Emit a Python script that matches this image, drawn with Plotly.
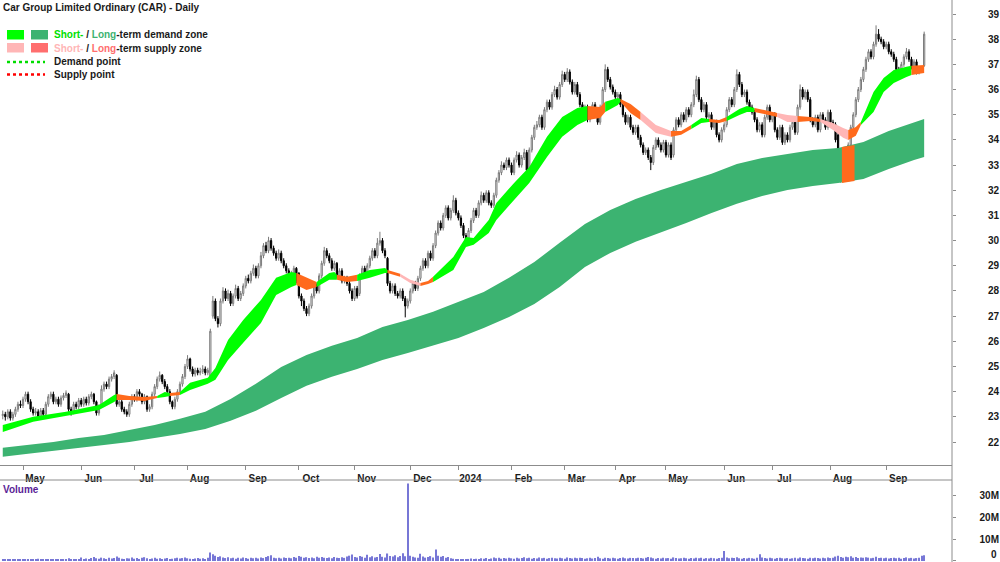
import pandas as pd
import plotly.graph_objects as go

# ---------------- calendar (ASX trading days) ----------------
asx_holidays = ["2023-04-25", "2023-06-12", "2023-12-25", "2023-12-26", "2024-01-01",
                "2024-01-26", "2024-03-29", "2024-04-01", "2024-04-25", "2024-06-10"]
trading_days = pd.bdate_range("2023-04-18", "2024-09-23")
trading_days = trading_days[~trading_days.isin(pd.to_datetime(asx_holidays))]

# ---------------- daily prices ----------------
open_ = [
 23.05,23.10,23.00,23.20,22.95,23.10,23.30,23.50,23.45,23.70,
 23.90,23.60,23.30,23.15,23.20,23.00,23.25,23.10,23.50,23.80,
 23.90,23.60,23.70,23.50,23.75,23.85,23.90,23.30,23.20,23.50,
 23.40,23.65,23.50,23.70,23.55,23.80,23.90,23.60,23.15,23.45,
 24.10,24.30,24.20,24.50,24.60,24.65,23.50,23.60,23.30,23.20,
 23.10,23.50,23.80,23.70,24.00,23.90,23.60,23.80,23.30,23.40,
 23.90,24.20,24.50,24.65,24.40,24.20,24.00,23.60,23.40,23.70,
 24.00,24.30,24.60,25.00,25.30,24.90,24.70,24.85,24.75,24.80,
 24.90,24.75,24.60,27.00,27.60,26.90,26.70,27.60,28.00,27.70,
 27.90,27.50,27.80,28.10,27.70,27.90,28.20,28.50,28.40,28.70,
 28.90,28.60,29.00,29.40,29.80,29.60,30.00,29.70,29.50,29.30,
 29.50,29.20,29.00,28.80,28.60,28.70,28.90,28.70,27.80,27.60,
 27.30,27.10,27.40,27.80,28.20,28.00,28.60,29.10,29.60,29.40,
 29.20,28.90,29.10,28.60,28.80,28.40,28.50,28.30,28.00,27.70,
 28.10,27.90,28.60,28.90,28.70,29.00,29.30,29.60,29.40,29.90,
 30.00,29.60,29.30,28.30,28.00,28.20,27.90,27.80,28.00,27.70,
 27.40,27.60,28.00,28.30,28.10,28.50,28.90,29.20,29.00,29.50,
 29.30,29.80,30.30,30.70,30.50,31.00,31.30,30.90,31.20,31.60,
 31.10,30.90,30.60,30.20,30.00,30.40,30.80,31.20,31.00,31.50,
 31.80,31.60,31.90,31.50,31.40,31.80,32.40,32.70,33.00,32.90,
 33.20,33.00,32.70,33.20,33.40,33.00,33.30,33.50,32.60,33.60,
 34.10,34.50,34.60,34.90,34.50,35.20,35.50,35.30,35.80,36.00,
 35.70,36.20,36.60,36.40,36.70,36.30,35.90,36.20,35.80,35.40,
 35.10,35.30,34.80,35.00,35.40,35.20,34.70,35.30,36.00,36.80,
 36.40,36.10,35.90,35.70,35.80,35.40,35.00,34.70,34.90,34.50,
 34.30,34.50,34.10,33.80,33.50,33.60,33.30,33.10,33.70,34.00,
 33.80,33.60,33.90,33.40,33.80,33.40,34.40,34.80,34.60,35.00,
 34.80,35.20,35.00,35.40,35.80,36.40,35.60,35.20,35.40,34.90,
 35.00,34.50,34.70,34.20,34.00,34.40,34.60,35.20,35.60,35.40,
 36.00,36.60,36.20,35.80,35.90,35.50,35.30,35.10,34.80,34.40,
 34.60,34.20,34.90,35.30,34.80,35.00,34.40,34.10,34.50,33.90,
 34.20,34.00,34.50,34.70,34.30,35.30,36.00,35.70,35.90,35.60,
 34.80,34.60,34.90,34.40,35.00,34.80,34.50,35.10,34.70,34.60,
 34.20,32.60,32.70,33.00,33.20,33.80,34.50,35.00,35.60,36.00,
 36.40,36.80,37.20,37.50,37.30,37.80,38.20,38.00,37.90,37.70,
 37.80,37.50,37.40,37.20,36.80,36.70,37.00,37.30,37.50,37.20,
 36.90,37.10,36.70,36.80,36.95]

high = [
 23.25,23.20,23.30,23.30,23.20,23.40,23.60,23.65,23.80,24.00,
 24.00,23.70,23.40,23.35,23.30,23.35,23.35,23.60,23.90,24.00,
 24.00,23.80,23.80,23.85,23.95,24.05,23.95,23.40,23.60,23.60,
 23.75,23.75,23.80,23.80,23.90,24.00,23.95,23.65,23.50,24.25,
 24.40,24.40,24.60,24.70,24.85,24.70,23.75,23.70,23.40,23.30,
 23.60,23.90,23.90,24.10,24.10,23.95,23.90,23.85,23.50,24.00,
 24.30,24.60,24.80,24.70,24.50,24.30,24.10,23.65,23.80,24.10,
 24.40,24.70,25.10,25.45,25.35,25.00,24.95,24.95,24.95,25.05,
 25.00,24.95,26.50,27.80,27.70,27.00,27.70,28.15,28.10,28.05,
 28.00,27.90,28.25,28.20,28.00,28.30,28.60,28.65,28.80,29.05,
 29.00,29.10,29.55,29.90,29.95,30.15,30.10,29.80,29.60,29.65,
 29.60,29.30,29.10,28.90,28.80,29.00,28.95,28.75,27.90,27.70,
 27.40,27.50,27.90,28.30,28.30,28.70,29.20,29.75,29.70,29.50,
 29.30,29.20,29.15,28.90,28.90,28.60,28.60,28.40,28.10,28.20,
 28.20,28.70,29.00,29.00,29.10,29.40,29.70,29.70,30.10,30.35,
 30.10,29.70,29.35,28.40,28.30,28.30,28.00,28.10,28.10,27.80,
 27.70,28.10,28.40,28.40,28.60,29.00,29.30,29.30,29.60,29.60,
 29.90,30.40,30.80,30.80,31.10,31.40,31.40,31.30,31.80,31.70,
 31.20,31.00,30.70,30.30,30.50,30.90,31.30,31.30,31.60,31.95,
 31.90,32.00,32.00,31.60,31.90,32.50,32.80,33.15,33.10,33.30,
 33.30,33.10,33.30,33.55,33.50,33.40,33.65,33.60,33.70,34.20,
 34.60,34.75,35.00,35.00,35.30,35.60,35.60,35.90,36.15,36.10,
 36.30,36.75,36.70,36.85,36.80,36.40,36.30,36.30,35.90,35.50,
 35.40,35.40,35.10,35.50,35.50,35.30,35.40,36.10,37.00,36.90,
 36.50,36.20,36.00,35.90,35.90,35.50,35.10,35.00,35.00,34.60,
 34.60,34.60,34.20,33.90,33.70,33.70,33.40,33.80,34.10,34.10,
 33.90,34.00,34.00,33.90,33.90,34.50,34.90,34.90,35.10,35.10,
 35.30,35.30,35.50,36.00,36.55,36.50,35.70,35.50,35.50,35.10,
 35.10,34.80,34.80,34.30,34.50,34.70,35.30,35.70,35.70,36.10,
 36.80,36.70,36.30,36.00,36.00,35.60,35.40,35.20,34.90,34.70,
 34.70,35.00,35.40,35.40,35.10,35.10,34.50,34.60,34.60,34.30,
 34.30,34.60,34.80,34.80,35.40,36.20,36.10,36.00,36.00,35.70,
 34.90,35.00,35.00,35.10,35.10,34.90,35.20,35.20,34.80,34.70,
 34.30,32.90,33.10,33.40,33.90,34.60,35.10,35.70,36.10,36.50,
 36.90,37.30,37.60,37.60,37.90,38.55,38.40,38.10,38.00,37.90,
 37.90,37.60,37.50,37.30,36.90,37.10,37.40,37.65,37.60,37.30,
 37.20,37.20,36.90,36.90,38.30]

low = [
 22.90,22.85,22.90,22.85,22.85,23.00,23.20,23.35,23.35,23.60,
 23.50,23.20,23.05,23.05,22.90,22.95,23.00,23.00,23.40,23.70,
 23.50,23.50,23.40,23.40,23.65,23.75,23.20,23.05,23.10,23.30,
 23.30,23.40,23.40,23.45,23.45,23.70,23.50,23.05,23.05,23.35,
 24.00,24.10,24.10,24.40,24.50,23.40,23.40,23.20,23.10,23.00,
 23.00,23.40,23.60,23.60,23.80,23.50,23.50,23.20,23.20,23.30,
 23.80,24.10,24.40,24.30,24.10,23.90,23.50,23.30,23.30,23.60,
 23.90,24.20,24.50,24.90,24.80,24.60,24.60,24.65,24.65,24.70,
 24.65,24.65,24.50,26.90,26.80,26.55,26.60,27.50,27.60,27.60,
 27.40,27.40,27.70,27.60,27.60,27.80,28.10,28.30,28.30,28.60,
 28.50,28.50,28.90,29.30,29.50,29.50,29.60,29.40,29.20,29.20,
 29.10,28.90,28.70,28.50,28.50,28.60,28.30,27.70,27.40,27.20,
 27.00,27.00,27.30,27.70,27.90,27.90,28.50,29.00,29.30,29.10,
 28.80,28.80,28.50,28.50,28.30,28.30,28.20,27.90,27.60,27.60,
 27.70,27.80,28.50,28.60,28.60,28.90,29.20,29.30,29.30,29.80,
 29.50,29.30,28.20,27.90,27.90,27.80,27.70,27.70,27.60,26.95,
 27.30,27.50,27.90,28.00,28.00,28.40,28.80,28.90,28.90,29.20,
 29.20,29.70,30.20,30.40,30.40,30.90,30.80,30.80,31.10,31.00,
 30.80,30.50,30.10,29.90,29.90,30.30,30.70,30.90,30.90,31.40,
 31.50,31.50,31.40,31.30,31.30,31.70,32.30,32.60,32.80,32.80,
 32.90,32.60,32.60,33.10,32.90,32.90,33.20,32.70,32.50,33.50,
 34.00,34.40,34.50,34.40,34.40,35.10,35.20,35.20,35.70,35.60,
 35.60,36.10,36.30,36.30,36.20,35.80,35.80,35.70,35.30,35.00,
 35.00,34.70,34.70,34.90,35.10,34.60,34.60,35.20,35.90,36.30,
 36.00,35.80,35.60,35.60,35.30,34.90,34.60,34.60,34.40,34.20,
 34.20,34.00,33.70,33.40,33.40,33.20,32.80,33.00,33.60,33.70,
 33.50,33.50,33.30,33.30,33.20,33.30,34.30,34.50,34.50,34.70,
 34.70,34.90,34.90,35.30,35.70,35.50,35.10,35.10,34.80,34.80,
 34.40,34.40,34.10,33.90,33.90,34.30,34.50,35.10,35.30,35.30,
 35.90,36.10,35.70,35.70,35.40,35.20,35.00,34.70,34.30,34.30,
 34.10,34.10,34.80,34.70,34.70,34.30,34.00,34.00,33.80,33.80,
 33.90,33.90,34.40,34.20,34.20,35.20,35.60,35.60,35.50,34.70,
 34.50,34.50,34.30,34.30,34.70,34.40,34.40,34.60,34.50,33.90,
 32.50,32.30,32.60,32.90,33.10,33.70,34.40,34.90,35.50,35.90,
 36.30,36.70,37.10,37.20,37.20,37.70,37.90,37.80,37.60,37.60,
 37.40,37.30,37.10,36.70,36.60,36.60,36.90,37.20,37.10,36.80,
 36.80,36.60,36.60,36.70,36.90]

close = [
 23.10,23.00,23.20,22.95,23.10,23.30,23.50,23.45,23.70,23.90,
 23.60,23.30,23.15,23.20,23.00,23.25,23.10,23.50,23.80,23.90,
 23.60,23.70,23.50,23.75,23.85,23.95,23.30,23.20,23.50,23.40,
 23.65,23.50,23.70,23.55,23.80,23.90,23.60,23.15,23.40,24.10,
 24.30,24.20,24.50,24.60,24.75,23.50,23.60,23.30,23.20,23.10,
 23.50,23.80,23.70,24.00,23.90,23.60,23.80,23.30,23.40,23.90,
 24.20,24.50,24.65,24.40,24.20,24.00,23.60,23.40,23.70,24.00,
 24.30,24.60,25.00,25.30,24.90,24.70,24.85,24.75,24.80,24.90,
 24.75,24.85,26.40,27.60,26.90,26.70,27.60,28.00,27.70,27.90,
 27.50,27.80,28.10,27.70,27.90,28.20,28.50,28.40,28.70,28.90,
 28.60,29.00,29.40,29.80,29.60,30.00,29.70,29.50,29.30,29.50,
 29.20,29.00,28.80,28.60,28.70,28.90,28.40,27.80,27.60,27.30,
 27.10,27.40,27.80,28.20,28.00,28.60,29.10,29.60,29.40,29.20,
 28.90,29.10,28.60,28.80,28.40,28.50,28.30,28.00,27.70,28.10,
 27.80,28.60,28.90,28.70,29.00,29.30,29.60,29.40,29.90,30.00,
 29.60,29.40,28.30,28.00,28.20,27.90,27.80,28.00,27.70,27.40,
 27.60,28.00,28.30,28.10,28.50,28.90,29.20,29.00,29.50,29.30,
 29.80,30.30,30.70,30.50,31.00,31.30,30.90,31.20,31.60,31.10,
 30.90,30.60,30.20,30.00,30.40,30.80,31.20,31.00,31.50,31.80,
 31.60,31.90,31.50,31.40,31.80,32.40,32.70,33.00,32.90,33.20,
 33.00,32.70,33.20,33.40,33.00,33.30,33.50,32.80,33.60,34.10,
 34.50,34.60,34.90,34.50,35.20,35.50,35.30,35.80,36.00,35.70,
 36.20,36.60,36.40,36.70,36.30,35.90,36.20,35.80,35.40,35.10,
 35.30,34.80,35.00,35.40,35.20,34.70,35.30,36.00,36.80,36.40,
 36.10,35.90,35.70,35.80,35.40,35.00,34.70,34.90,34.50,34.30,
 34.50,34.10,33.80,33.50,33.60,33.30,33.10,33.70,34.00,33.80,
 33.60,33.90,33.40,33.80,33.30,34.40,34.80,34.60,35.00,34.80,
 35.20,35.00,35.40,35.80,36.40,35.60,35.20,35.40,34.90,35.00,
 34.50,34.70,34.20,34.00,34.40,34.60,35.20,35.60,35.40,36.00,
 36.60,36.20,35.80,35.90,35.50,35.30,35.10,34.80,34.40,34.60,
 34.20,34.90,35.30,34.80,35.00,34.40,34.10,34.50,33.90,34.20,
 34.00,34.50,34.70,34.30,35.30,36.00,35.70,35.90,35.60,34.80,
 34.60,34.90,34.40,35.00,34.80,34.50,35.10,34.70,34.60,34.00,
 32.60,32.70,33.00,33.20,33.80,34.50,35.00,35.60,36.00,36.40,
 36.80,37.20,37.50,37.30,37.80,38.20,38.00,37.90,37.70,37.80,
 37.50,37.40,37.20,36.80,36.70,37.00,37.30,37.50,37.20,36.90,
 37.10,36.70,36.80,36.80,38.20]

# volume in millions of shares
volume_m = [
 0.8,0.6,0.7,0.9,0.6,0.7,0.8,0.6,0.9,0.7,
 0.8,0.6,0.7,0.9,1.0,0.7,0.6,0.8,0.9,0.7,
 0.6,0.8,0.7,0.9,0.6,0.8,1.2,0.9,0.7,0.8,
 0.9,1.6,0.8,1.1,0.9,1.3,1.8,1.2,1.0,1.5,
 1.2,0.9,1.4,1.1,1.3,2.0,1.4,1.0,0.9,1.2,
 1.1,1.6,1.0,1.3,0.9,1.5,1.7,1.2,0.9,1.1,
 1.4,1.0,1.2,0.8,1.1,1.3,0.9,1.0,1.2,1.5,
 1.1,1.3,1.6,1.2,1.0,0.9,1.1,1.3,1.0,1.2,
 0.9,1.4,3.8,3.0,2.4,1.8,2.1,1.6,1.3,1.7,
 1.2,1.5,1.0,1.4,1.1,1.6,1.3,1.0,1.5,1.2,
 1.4,1.1,1.6,1.3,1.8,2.2,2.6,1.5,1.2,1.4,
 1.1,1.6,1.3,1.5,1.2,1.8,1.4,2.3,1.9,1.5,
 1.7,1.3,1.6,1.2,1.9,1.5,1.8,1.4,1.3,1.6,
 1.2,1.8,1.5,1.3,1.7,1.4,2.0,2.4,2.9,1.8,
 1.6,2.2,1.9,1.5,2.8,1.7,2.1,1.6,1.8,3.2,
 1.9,1.6,3.4,2.2,2.0,2.6,1.7,2.3,3.5,2.1,
 35.5,2.4,1.9,1.6,1.4,3.3,2.0,1.5,1.8,2.2,
 1.6,5.2,2.4,1.9,2.3,1.5,1.8,1.2,1.0,0.9,
 0.8,0.9,0.7,0.8,0.9,1.1,0.8,1.0,0.9,1.2,
 1.0,1.3,0.9,1.1,1.6,1.2,1.4,1.0,1.3,1.1,
 1.5,1.2,1.0,1.4,1.1,1.3,1.7,1.2,1.5,1.0,
 1.3,1.1,1.6,1.2,1.4,1.0,1.3,1.5,1.2,1.1,
 1.4,1.2,1.0,1.6,1.3,1.1,1.4,1.2,1.5,1.3,
 1.0,1.2,1.4,1.1,1.3,1.9,1.2,1.0,1.5,1.3,
 1.1,1.4,1.2,1.0,1.3,1.6,1.2,1.1,1.4,1.3,
 1.2,1.5,1.3,1.1,1.4,1.8,1.6,1.2,1.0,1.3,
 1.1,1.4,1.2,1.3,1.0,1.6,1.3,1.1,1.2,1.4,
 1.2,1.0,1.3,1.1,1.5,1.2,1.4,1.0,1.3,1.1,
 1.4,1.2,1.0,1.3,1.5,4.6,1.6,1.2,1.4,1.3,
 1.7,1.2,1.0,1.3,1.1,1.4,1.2,1.0,1.5,3.1,
 1.6,1.3,1.1,1.4,1.2,1.0,1.3,1.5,1.2,1.1,
 1.3,1.0,1.2,1.4,1.1,1.6,1.3,1.2,1.0,1.4,
 1.2,1.5,1.3,1.1,1.4,1.2,1.6,1.3,1.5,2.0,
 2.4,1.8,1.5,1.9,1.7,2.1,1.5,1.8,1.3,1.6,
 1.4,1.7,1.5,1.2,1.4,1.9,1.3,1.5,1.2,1.4,
 1.1,1.3,1.5,1.2,1.4,1.0,1.3,1.6,1.2,1.4,
 1.1,1.3,1.5,2.4,2.6]

# ---------------- zones ----------------
# short-term zone: bar index, upper edge, lower edge, zone type of the stretch that follows
st_idx = [0,12,25,38,44,45,50,56,61,64,66,70,74,81,84,89,95,102,108,114,116,120,124,129,131,
          132,136,140,145,151,152,157,161,165,168,170,178,183,186,192,195,202,208,215,221,227,
          231,236,238,243,244,248,252,258,264,268,272,276,279,283,286,291,294,297,301,306,310,
          314,319,323,328,332,334,337,339,344,348,352,357,359,364]
st_top = [22.68,23.00,23.20,23.47,23.87,23.91,23.83,23.79,23.83,23.99,23.95,23.99,24.35,24.55,24.94,
          26.05,26.85,27.64,28.52,28.75,28.71,28.52,28.36,28.71,28.75,28.64,28.56,28.64,28.83,28.91,
          28.83,28.68,28.44,28.32,28.40,28.56,29.35,30.14,30.10,30.82,31.49,32.29,32.92,34.12,34.91,
          35.27,35.35,35.31,35.51,35.66,35.62,35.43,35.11,34.59,34.35,34.35,34.59,34.87,34.83,34.79,
          34.91,35.23,35.35,35.27,35.19,35.07,34.99,34.95,34.91,34.83,34.67,34.47,34.39,34.51,34.71,
          35.90,36.46,36.78,36.90,36.94,36.97]
st_bot = [22.40,22.80,23.04,23.27,23.59,23.67,23.67,23.63,23.75,23.79,23.83,23.87,24.07,24.31,24.47,
          25.26,25.94,26.73,27.84,28.16,28.24,28.04,28.16,28.44,28.44,28.44,28.36,28.40,28.52,28.71,
          28.71,28.56,28.32,28.20,28.28,28.36,28.83,29.75,29.83,30.30,30.82,31.61,32.29,33.32,34.12,
          34.59,34.79,34.87,35.11,35.39,35.51,35.07,34.79,34.27,34.12,34.20,34.43,34.67,34.71,34.67,
          34.75,34.99,35.11,35.11,35.03,34.91,34.71,34.71,34.75,34.71,34.39,34.08,34.00,34.16,34.59,
          35.11,35.90,36.26,36.50,36.58,36.66]
st_zone = ["G","G","G","G","G","O","O","O","G","G","O",
           "G","G","G","G","G","G","G","G","G",
           "O","O","G","G","G","O","O","G","G","G",
           "O","P","P","O","O",
           "G","G","G","G","G","G","G","G","G","G","G",
           "O","O","G","G","O","O","P","P","O","O",
           "G","G","O","O","G","G","G",
           "O","O","P","P","O","O","P","P","P","O","O",
           "G","G","G","G","G","O","O"]

# long-term zone
lt_idx = [0,10,20,30,40,50,60,70,80,90,100,110,120,130,140,150,160,170,180,190,
          200,210,220,230,240,250,260,270,280,290,300,310,320,330,340,350,360,364]
lt_top = [21.77,21.88,22.00,22.16,22.28,22.48,22.68,22.92,23.20,23.71,24.31,24.98,25.46,25.82,
          26.13,26.57,26.85,27.17,27.56,27.96,28.52,29.15,29.91,30.66,31.22,31.65,32.01,32.33,
          32.65,33.04,33.28,33.44,33.60,33.68,33.92,34.35,34.71,34.83]
lt_bot = [21.41,21.53,21.65,21.77,21.88,22.00,22.16,22.32,22.52,22.84,23.24,23.75,24.23,24.59,
          24.90,25.26,25.54,25.82,26.13,26.53,26.97,27.48,28.16,28.95,29.51,29.95,30.34,30.70,
          31.10,31.46,31.77,32.01,32.17,32.29,32.45,32.84,33.20,33.32]
# long-term supply stretch (August 2024)
lt_sup_idx = [331.5, 336.5]
lt_sup_top = [33.72, 33.80]
lt_sup_bot = [32.29, 32.37]

price_ticks = list(range(22, 40))
volume_ticks = [0, 10e6, 20e6, 30e6]
volume_label_ticks = [10e6, 20e6, 30e6]
volume_label_text = ["10M", "20M", "30M"]

# ---------------- styling ----------------
C_SHORT_DEMAND = "#00FF00"
C_LONG_DEMAND = "#3CB371"
C_SHORT_SUPPLY = "#FFB6B6"
C_LONG_SUPPLY = "#FF6E6E"
C_ORANGE = "#FF6A1C"
ZONE_COLORS = {"G": C_SHORT_DEMAND, "O": C_ORANGE, "P": C_SHORT_SUPPLY}
AXIS_GREY = "#8c8c8c"
FS = 10
FONT = dict(family="Liberation Sans, Arial, sans-serif", size=FS, color="#1a1a1a")

W, H = 1000, 562
PLOT_R = 952
PRICE_BOTTOM = 465
VOL_TOP = 480
PRICE_RANGE = [21.087, 39.556]
VOL_RANGE = [-0.5e6, 37.1e6]
X_RANGE = [-1.09, 375.0]

n = len(trading_days)
idx = list(range(n))

month_pos, month_txt = [], []
prev = None
for i, d in enumerate(trading_days):
    key = (d.year, d.month)
    if key != prev:
        if prev is not None:
            month_pos.append(i)
            month_txt.append(str(d.year) if d.month == 1 else d.strftime("%b"))
        prev = key

fig = go.Figure()


def add_band(xs, top, bot, color):
    fig.add_trace(go.Scatter(
        x=list(xs) + list(xs)[::-1], y=list(top) + list(bot)[::-1],
        fill="toself", fillcolor=color, mode="lines", line=dict(width=0, color=color),
        hoverinfo="skip", showlegend=False, xaxis="x", yaxis="y"))


# long-term band
add_band(lt_idx, lt_top, lt_bot, C_LONG_DEMAND)
add_band(lt_sup_idx, lt_sup_top, lt_sup_bot, C_ORANGE)

# short-term band, split into coloured stretches
segs = []
start = 0
for i in range(1, len(st_idx) - 1):
    if st_zone[i] != st_zone[start]:
        segs.append((start, i, st_zone[start]))
        start = i
segs.append((start, len(st_idx) - 1, st_zone[start]))
for a, b, z in segs:
    add_band(st_idx[a:b + 1], st_top[a:b + 1], st_bot[a:b + 1], ZONE_COLORS[z])

# candles
fig.add_trace(go.Candlestick(
    x=idx, open=open_, high=high, low=low, close=close,
    increasing=dict(line=dict(color="#7a7a7a", width=1), fillcolor="white"),
    decreasing=dict(line=dict(color="black", width=1), fillcolor="black"),
    whiskerwidth=0, hoverinfo="skip", showlegend=False, xaxis="x", yaxis="y"))

# volume
fig.add_trace(go.Bar(
    x=idx, y=[v * 1e6 for v in volume_m], width=0.45,
    marker=dict(color="#7777d6", line=dict(width=0)),
    hoverinfo="skip", showlegend=False, xaxis="x2", yaxis="y2"))

# invisible helpers so the label axes get drawn
fig.add_trace(go.Scatter(x=[0], y=[30], mode="markers", marker=dict(opacity=0),
                         hoverinfo="skip", showlegend=False, xaxis="x", yaxis="y3"))
fig.add_trace(go.Scatter(x=[0], y=[1e6], mode="markers", marker=dict(opacity=0),
                         hoverinfo="skip", showlegend=False, xaxis="x2", yaxis="y4"))

bold = lambda s: f"<b>{s}</b>"

fig.update_layout(
    width=W, height=H, margin=dict(l=0, r=0, t=0, b=0, pad=0),
    paper_bgcolor="white", plot_bgcolor="white", showlegend=False,
    font=FONT, hovermode=False,
    xaxis=dict(domain=[0, PLOT_R / W], range=X_RANGE, anchor="y",
               tickmode="array", tickvals=month_pos, ticktext=[bold(t) for t in month_txt],
               ticks="outside", ticklen=4, tickcolor=AXIS_GREY, tickfont=FONT,
               ticklabelshift=12, showline=True, linecolor=AXIS_GREY, linewidth=1,
               showgrid=False, zeroline=False, rangeslider=dict(visible=False)),
    xaxis2=dict(domain=[0, PLOT_R / W], range=X_RANGE, matches="x", anchor="y2",
                showticklabels=False, ticks="", showline=False, showgrid=False, zeroline=False),
    yaxis=dict(domain=[(H - PRICE_BOTTOM) / H, 1], range=PRICE_RANGE, anchor="x", side="right",
               tickmode="array", tickvals=price_ticks, showticklabels=False,
               ticks="outside", ticklen=3, tickcolor=AXIS_GREY,
               showline=False, showgrid=False, zeroline=False),
    yaxis3=dict(overlaying="y", anchor="free", position=0.999, side="left", range=PRICE_RANGE,
                tickmode="array", tickvals=price_ticks, ticktext=[bold(t) for t in price_ticks],
                ticks="", tickfont=FONT, showline=False, showgrid=False, zeroline=False),
    yaxis2=dict(domain=[0, (H - VOL_TOP) / H], range=VOL_RANGE, anchor="x2", side="right",
                tickmode="array", tickvals=volume_ticks, showticklabels=False,
                ticks="outside", ticklen=3, tickcolor=AXIS_GREY,
                showline=False, showgrid=False, zeroline=False),
    yaxis4=dict(overlaying="y2", anchor="free", position=0.999, side="left", range=VOL_RANGE,
                tickmode="array", tickvals=volume_label_ticks,
                ticktext=[bold(t) for t in volume_label_text],
                ticks="", tickfont=FONT, showline=False, showgrid=False, zeroline=False),
)

px = lambda v: v / W
py = lambda v: 1 - v / H

shapes = [
    # right axis line across both panels
    dict(type="line", xref="paper", yref="paper", x0=px(PLOT_R), x1=px(PLOT_R), y0=0, y1=1,
         line=dict(color=AXIS_GREY, width=1)),
    # volume panel top border
    dict(type="line", xref="paper", yref="paper", x0=0, x1=px(PLOT_R), y0=py(VOL_TOP), y1=py(VOL_TOP),
         line=dict(color=AXIS_GREY, width=1)),
    # legend swatches
    dict(type="rect", xref="paper", yref="paper", x0=px(7), x1=px(24), y0=py(39.5), y1=py(30),
         fillcolor=C_SHORT_DEMAND, line=dict(width=0)),
    dict(type="rect", xref="paper", yref="paper", x0=px(31), x1=px(48), y0=py(39.5), y1=py(30),
         fillcolor=C_LONG_DEMAND, line=dict(width=0)),
    dict(type="rect", xref="paper", yref="paper", x0=px(7), x1=px(24), y0=py(52.5), y1=py(43),
         fillcolor=C_SHORT_SUPPLY, line=dict(width=0)),
    dict(type="rect", xref="paper", yref="paper", x0=px(31), x1=px(48), y0=py(52.5), y1=py(43),
         fillcolor=C_LONG_SUPPLY, line=dict(width=0)),
    dict(type="line", xref="paper", yref="paper", x0=px(7), x1=px(45), y0=py(62), y1=py(62),
         line=dict(color="#00DD00", width=2.5, dash="dot")),
    dict(type="line", xref="paper", yref="paper", x0=px(7), x1=px(45), y0=py(74.5), y1=py(74.5),
         line=dict(color="#FF0000", width=2.5, dash="dot")),
]
fig.update_layout(shapes=shapes)


def note(x, y, text, color="#1a1a1a", xanchor="left", yanchor="middle"):
    fig.add_annotation(xref="paper", yref="paper", x=px(x), y=py(y), text=text,
                       showarrow=False, xanchor=xanchor, yanchor=yanchor,
                       font=dict(family=FONT["family"], size=FS, color=color))


note(1, 7.5, "<b>Car Group Limited Ordinary (CAR) - Daily</b>")
note(52, 35, "<b><span style='color:#00E000'>Short-</span> / <span style='color:#3CB371'>Long</span>-term demand zone</b>")
note(52, 48.5, "<b><span style='color:#FFB6B6'>Short-</span> / <span style='color:#FF6E6E'>Long</span>-term supply zone</b>")
note(52, 62, "<b>Demand point</b>")
note(52, 74.5, "<b>Supply point</b>")
note(1, 489, "<b>Volume</b>", color="#5a1e96")
# zero label of the volume axis, kept inside the page
note(999, 562, "<b>0</b>", xanchor="right", yanchor="bottom")

fig.write_html("out.html")
